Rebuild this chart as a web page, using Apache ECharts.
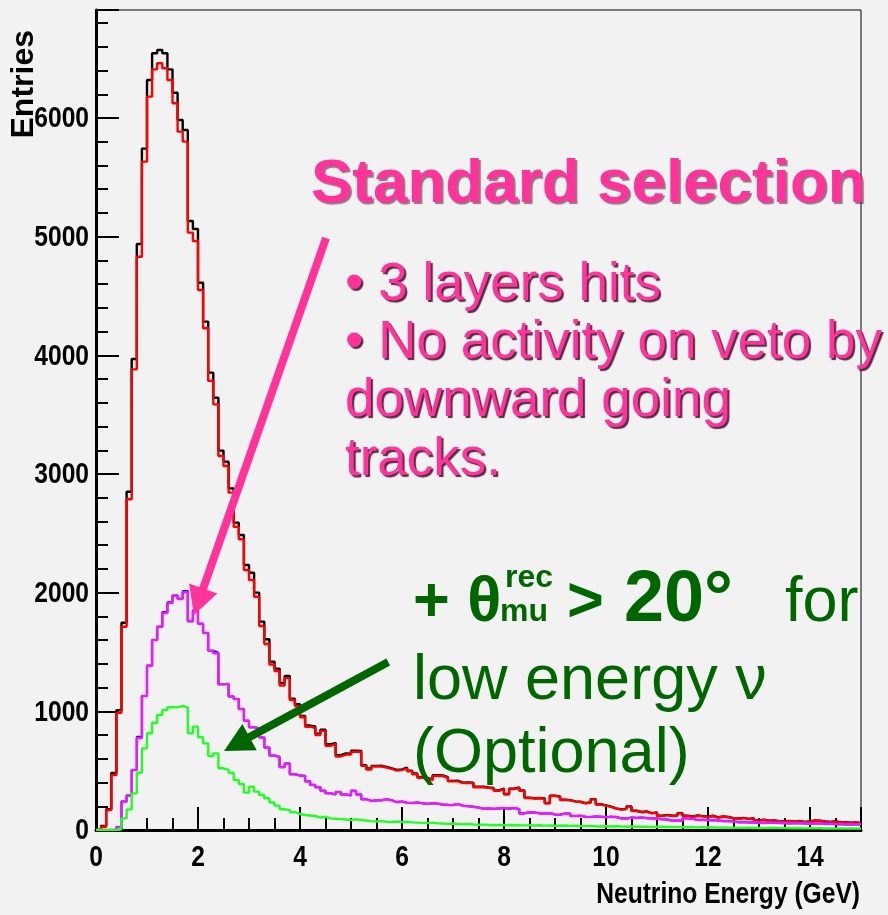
<!DOCTYPE html>
<html>
<head>
<meta charset="utf-8">
<script src="https://cdn.jsdelivr.net/npm/echarts@6/dist/echarts.min.js"></script>
<style>
  html, body { margin: 0; padding: 0; background: #f2f2f2; }
  #chart { width: 888px; height: 915px; }
</style>
</head>
<body>
<div id="chart"></div>
<script>
// Histogram binning: 150 bins of 0.1 GeV from 0 to 15 GeV
const binWidth = 0.1;
const energyMin = 0;
const energyMax = 15;
const entriesMax = 6910;
const xTickValues = [0, 2, 4, 6, 8, 10, 12, 14];
const xTickLabels = ['0', '2', '4', '6', '8', '10', '12', '14'];
const yTickValues = [0, 1000, 2000, 3000, 4000, 5000, 6000];
const yTickLabels = ['0', '1000', '2000', '3000', '4000', '5000', '6000'];

// All events (black)
const allEvents = [
  0, 35, 175, 480, 1010, 1747, 2851, 3969, 4938, 5742,
  6320, 6545, 6573, 6545, 6410, 6213, 5983, 5899, 5132, 5065,
  4612, 4284, 3854, 3643, 3197, 3104, 2879, 2590, 2486, 2233,
  2168, 2000, 1756, 1607, 1419, 1360, 1240, 1298, 1107, 1060,
  962, 880, 872, 812, 845, 722, 733, 630, 645, 642,
  668, 667, 547, 518, 540, 541, 531, 520, 507, 511,
  526, 500, 476, 446, 440, 424, 461, 460, 445, 414,
  415, 399, 400, 399, 364, 364, 358, 354, 334, 349,
  303, 348, 358, 333, 273, 268, 271, 265, 228, 290,
  283, 256, 252, 241, 238, 227, 232, 260, 217, 207,
  197, 182, 174, 178, 199, 162, 152, 156, 142, 148,
  120, 127, 120, 122, 142, 120, 114, 122, 117, 112,
  120, 107, 114, 110, 100, 97, 102, 94, 100, 81,
  86, 78, 81, 74, 72, 76, 70, 74, 68, 72,
  81, 78, 72, 68, 74, 64, 66, 62, 64, 60
];

// Standard selection (red)
const standardSelection = [
  0, 28, 168, 463, 988, 1713, 2787, 3882, 4831, 5632,
  6180, 6410, 6461, 6419, 6320, 6124, 5885, 5801, 5034, 4963,
  4551, 4228, 3786, 3587, 3152, 3067, 2843, 2556, 2450, 2191,
  2107, 1966, 1719, 1567, 1395, 1340, 1218, 1280, 1095, 1045,
  950, 870, 860, 800, 835, 710, 725, 620, 636, 636,
  660, 660, 540, 510, 535, 535, 525, 515, 500, 505,
  520, 495, 470, 440, 435, 420, 455, 455, 440, 410,
  410, 395, 395, 395, 360, 360, 355, 350, 330, 345,
  300, 345, 355, 330, 270, 265, 268, 262, 225, 287,
  280, 253, 250, 239, 236, 225, 230, 258, 215, 205,
  195, 180, 172, 176, 197, 160, 150, 154, 140, 146,
  118, 125, 118, 120, 140, 118, 112, 120, 115, 110,
  118, 105, 112, 108, 98, 95, 100, 92, 98, 79,
  84, 76, 79, 72, 70, 74, 68, 72, 66, 70,
  79, 76, 70, 66, 72, 62, 64, 60, 62, 58
];

// Angle cut (blue)
const angleCutBlue = [
  0, 0, 0, 0, 25, 240, 290, 505, 785, 1129,
  1385, 1601, 1713, 1838, 1920, 1976, 1948, 2013, 1760, 1852,
  1738, 1660, 1510, 1495, 1228, 1232, 1125, 1104, 1020, 920,
  866, 857, 780, 695, 628, 615, 530, 560, 470, 460,
  455, 410, 380, 360, 330, 310, 300, 320, 300, 290,
  330, 300, 260, 245, 250, 250, 260, 250, 235, 240,
  230, 228, 232, 225, 220, 225, 222, 215, 212, 210,
  218, 205, 200, 195, 190, 180, 182, 178, 182, 185,
  180, 186, 176, 140, 150, 148, 140, 138, 142, 130,
  128, 140, 136, 118, 120, 112, 110, 114, 112, 108,
  112, 110, 98, 96, 105, 102, 106, 100, 98, 96,
  90, 88, 79, 80, 78, 98, 95, 84, 86, 82,
  84, 80, 75, 76, 72, 65, 68, 64, 66, 62,
  60, 63, 61, 60, 58, 56, 59, 57, 56, 54,
  56, 55, 52, 54, 48, 50, 47, 49, 46, 48
];

// Angle cut (magenta)
const angleCutMagenta = [
  0, 0, 0, 0, 25, 240, 290, 505, 775, 1129,
  1385, 1601, 1713, 1828, 1913, 1976, 1948, 2003, 1760, 1844,
  1738, 1660, 1510, 1489, 1228, 1228, 1125, 1104, 1020, 920,
  866, 857, 780, 695, 628, 615, 530, 560, 470, 460,
  455, 410, 380, 360, 330, 310, 300, 320, 300, 290,
  330, 300, 260, 245, 250, 250, 260, 250, 235, 240,
  230, 228, 232, 225, 220, 225, 222, 215, 212, 210,
  218, 205, 200, 195, 190, 180, 182, 178, 182, 185,
  180, 186, 176, 140, 150, 148, 140, 138, 142, 130,
  128, 140, 136, 118, 120, 112, 110, 114, 112, 108,
  112, 110, 98, 96, 105, 102, 106, 100, 98, 96,
  90, 88, 79, 80, 78, 98, 95, 84, 86, 82,
  84, 80, 75, 76, 72, 65, 68, 64, 66, 62,
  60, 63, 61, 60, 58, 56, 59, 57, 56, 54,
  56, 55, 52, 54, 48, 50, 47, 49, 46, 48
];

// Low energy cut (green)
const lowEnergyCut = [
  0, 0, 0, 0, 5, 98, 174, 309, 483, 688,
  815, 904, 969, 1011, 1034, 1034, 1045, 1034, 815, 871,
  781, 730, 624, 646, 520, 506, 483, 421, 388, 315,
  365, 323, 295, 267, 232, 205, 175, 168, 150, 135,
  126, 122, 118, 105, 110, 98, 95, 92, 88, 84,
  90, 84, 80, 75, 72, 75, 70, 68, 72, 66,
  70, 64, 62, 60, 58, 62, 56, 55, 52, 55,
  50, 48, 50, 46, 44, 45, 42, 40, 42, 41,
  40, 42, 40, 39, 41, 38, 40, 37, 38, 36,
  36, 38, 35, 36, 34, 33, 35, 32, 30, 32,
  30, 31, 29, 28, 30, 28, 27, 28, 26, 28,
  27, 25, 26, 24, 25, 23, 24, 22, 23, 21,
  22, 20, 21, 20, 19, 20, 18, 19, 17, 18,
  16, 18, 17, 16, 17, 15, 16, 15, 14, 16,
  14, 15, 13, 14, 13, 14, 12, 13, 12, 13
];

const axisFont = "'Liberation Sans', Arial, sans-serif";
const textFont = "'Liberation Sans', Arial, sans-serif";
const narrow = 0.82;          // condensed look of the axis lettering
const pink = '#ff3399';
const darkGreen = '#006600';

// Bin edges -> step points (left edge of each bin, plus closing right edge)
function histPoints(counts) {
  const pts = counts.map((c, i) => [+(energyMin + i * binWidth).toFixed(2), c]);
  pts.push([energyMin + counts.length * binWidth, counts[counts.length - 1]]);
  return pts;
}

function histSeries(name, counts, color, width) {
  return {
    name, type: 'line', step: 'end', data: histPoints(counts),
    symbol: 'none', xAxisIndex: 0, yAxisIndex: 0,
    lineStyle: { color, width: width || 2.4 }, z: 3
  };
}

const chart = echarts.init(document.getElementById('chart'), null, { renderer: 'canvas' });

const tickLine = { color: '#000', width: 2 };

chart.setOption({
  animation: false,
  backgroundColor: '#f2f2f2',
  grid: {
    left: 96, right: 27, top: 10, bottom: 85,
    show: true, borderColor: '#000', borderWidth: 1, backgroundColor: 'transparent'
  },
  xAxis: [
    {
      type: 'value', min: energyMin, max: energyMax, interval: 2,
      axisLine: { show: true, onZero: false, lineStyle: { color: '#000', width: 3 } },
      axisTick: { show: true, inside: true, length: 23, lineStyle: tickLine },
      axisLabel: { show: false },
      splitLine: { show: false }
    },
    {
      type: 'value', min: energyMin, max: energyMax, interval: 0.5, position: 'bottom',
      axisLine: { show: false },
      axisTick: { show: true, inside: true, length: 12, lineStyle: tickLine },
      axisLabel: { show: false },
      splitLine: { show: false }
    }
  ],
  yAxis: [
    {
      type: 'value', min: 0, max: entriesMax, interval: 1000,
      axisLine: { show: true, onZero: false, lineStyle: { color: '#000', width: 3 } },
      axisTick: { show: true, inside: true, length: 23, lineStyle: tickLine },
      axisLabel: { show: false },
      splitLine: { show: false }
    },
    {
      type: 'value', min: 0, max: entriesMax, interval: 200, position: 'left',
      axisLine: { show: false },
      axisTick: { show: true, inside: true, length: 12, lineStyle: tickLine },
      axisLabel: { show: false },
      splitLine: { show: false }
    }
  ],
  series: [
    histSeries('all', allEvents, '#000000'),
    histSeries('standard', standardSelection, '#ff0000'),
    histSeries('angleBlue', angleCutBlue, '#0000ff', 2),
    histSeries('angleMagenta', angleCutMagenta, '#e61cff', 2.6),
    histSeries('lowEnergy', lowEnergyCut, '#22ff22')
  ]
});

// Arrow in data coordinates, drawn as a thick shaft plus a triangular head
function arrow(from, to, color, width, headLen, headHalf) {
  const p0 = chart.convertToPixel({ gridIndex: 0 }, from);
  const p1 = chart.convertToPixel({ gridIndex: 0 }, to);
  const dx = p1[0] - p0[0], dy = p1[1] - p0[1];
  const len = Math.hypot(dx, dy);
  const ux = dx / len, uy = dy / len;
  const bx = p1[0] - ux * headLen, by = p1[1] - uy * headLen;
  return [
    { type: 'line', silent: true, z: 20,
      shape: { x1: p0[0], y1: p0[1], x2: bx + ux * 2, y2: by + uy * 2 },
      style: { stroke: color, lineWidth: width } },
    { type: 'polygon', silent: true, z: 20,
      shape: { points: [[p1[0], p1[1]], [bx - uy * headHalf, by + ux * headHalf], [bx + uy * headHalf, by - ux * headHalf]] },
      style: { fill: color } }
  ];
}

// Condensed bold text placed at a pixel anchor
function condensed(text, x, y, size, align, vAlign, extra) {
  return Object.assign({
    type: 'text', silent: true, z: 30, x, y, scaleX: narrow, scaleY: 1,
    style: { text, x: 0, y: 0, font: 'bold ' + size + 'px ' + axisFont, fill: '#000', align, verticalAlign: vAlign }
  }, extra || {});
}

// Tick labels positioned through the axis scales
const tickLabels = [];
xTickValues.forEach((v, i) => {
  const p = chart.convertToPixel({ xAxisIndex: 0 }, v);
  tickLabels.push(condensed(xTickLabels[i], p, 843, 30, 'center', 'top'));
});
yTickValues.forEach((v, i) => {
  const p = chart.convertToPixel({ yAxisIndex: 0 }, v);
  tickLabels.push(condensed(yTickLabels[i], 89, p + 1, 30, 'right', 'middle'));
});

function plainText(text, x, y, font, fill, extra) {
  return { type: 'text', silent: true, z: 30,
    style: Object.assign({ text, x, y, font, fill, align: 'left', verticalAlign: 'bottom' }, extra || {}) };
}

const shadow = { textShadowColor: 'rgba(70,20,50,0.9)', textShadowOffsetX: 2, textShadowOffsetY: 2, textShadowBlur: 1 };
const softShadow = { textShadowColor: 'rgba(90,30,60,0.6)', textShadowOffsetX: 2, textShadowOffsetY: 2, textShadowBlur: 1 };

const graphics = [
  ...arrow([4.51, 4989], [1.92, 1812], pink, 8, 28, 15),
  ...arrow([5.73, 1416], [2.51, 666], darkGreen, 8, 29, 15),
  ...tickLabels,
  // Axis titles
  {
    type: 'text', silent: true, z: 30, x: 40, y: 30, rotation: Math.PI / 2,
    style: { text: 'Entries', font: 'bold 32px ' + axisFont, fill: '#000', align: 'right', verticalAlign: 'bottom' }
  },
  condensed('Neutrino Energy (GeV)', 860, 910, 30, 'right', 'bottom'),
  // Pink annotation
  plainText('Standard selection', 311, 216, 'bold 62px ' + textFont, pink, softShadow),
  plainText('\u2022 3 layers hits', 345, 312, '53px ' + textFont, pink, shadow),
  plainText('\u2022 No activity on veto by', 345, 370, '53px ' + textFont, pink, shadow),
  plainText('downward going', 345, 428, '53px ' + textFont, pink, shadow),
  plainText('tracks.', 345, 487, '53px ' + textFont, pink, shadow),
  // Green annotation
  plainText('+ \u03b8', 413, 635, 'bold 63px ' + textFont, darkGreen),
  plainText('mu', 500, 628, 'bold 32px ' + textFont, darkGreen),
  plainText('rec', 505, 594, 'bold 32px ' + textFont, darkGreen),
  plainText('>', 567, 635, 'bold 63px ' + textFont, darkGreen),
  plainText('20\u00b0', 624, 637, 'bold 72px ' + textFont, darkGreen),
  plainText('for', 785, 635, '63px ' + textFont, darkGreen),
  plainText('low energy \u03bd', 413, 713, '63px ' + textFont, darkGreen),
  plainText('(Optional)', 413, 786, '63px ' + textFont, darkGreen)
];

chart.setOption({ graphic: graphics });
</script>
</body>
</html>
